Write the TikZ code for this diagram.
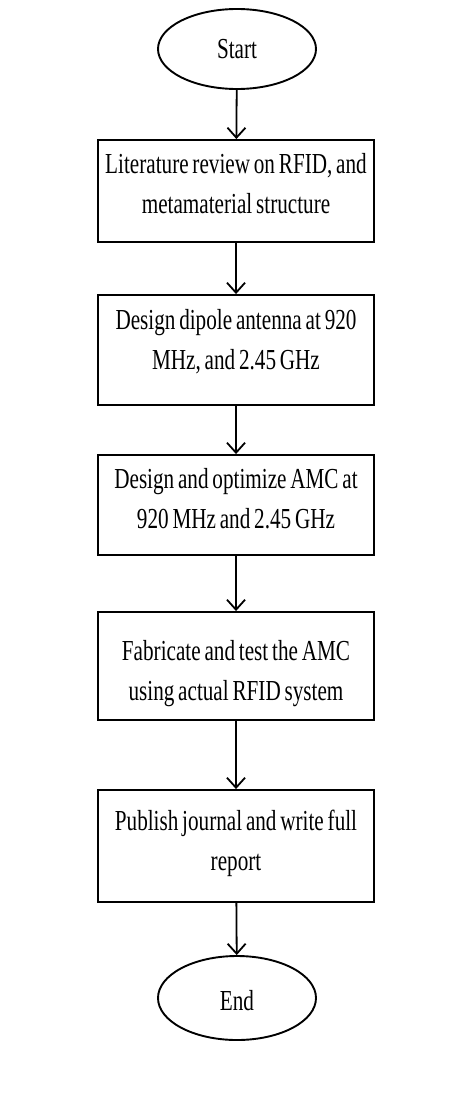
\documentclass[tikz,border=0pt]{standalone}
\usepackage{graphicx}
\usepackage{fontspec}
\setmainfont{Liberation Serif}
\usetikzlibrary{shapes.geometric,arrows.meta}
% narrow, tall lettering with tight word spacing, used in every label
\newcommand{\narrowtext}[1]{\scalebox{0.73}[1]{\spaceskip=0.18em plus 0.02em\begin{tabular}{@{}c@{}}#1\end{tabular}}}
\begin{document}
\begin{tikzpicture}[x=1pt,y=-1pt,
  every node/.style={font=\fontsize{29}{40}\selectfont, align=center, inner sep=0pt},
  terminal/.style={draw, ellipse, line width=1.9pt, minimum width=158pt, minimum height=80pt},
  stepbox/.style={draw, rectangle, line width=1.9pt, minimum width=276pt},
  flow/.style={line width=1.8pt, -{Straight Barb[length=10pt,width=18pt,line width=1.8pt]}}
]
\useasboundingbox (0,0) rectangle (467,1100);

\node[terminal] (start) at (237,49) {};
\node[stepbox, minimum height=102pt] (s1) at (236,191) {};
\node[stepbox, minimum height=110pt] (s2) at (236,350) {};
\node[stepbox, minimum height=100pt] (s3) at (236,505) {};
\node[stepbox, minimum height=108pt] (s4) at (236,666) {};
\node[stepbox, minimum height=112pt] (s5) at (236,846) {};
\node[terminal, minimum height=84pt] (end) at (237,998) {};

% labels, nudged off the shape centres
\node (t0) at ([yshift=-1pt]start.center) {\narrowtext{Start}};
\node (t1) at ([yshift=6pt]s1.center) {\narrowtext{Literature review on RFID, and\\metamaterial structure}};
\node (t2) at ([yshift=9pt]s2.center) {\narrowtext{Design dipole antenna at 920\\MHz, and 2.45 GHz}};
\node (t3) at ([yshift=5pt]s3.center) {\narrowtext{Design and optimize AMC at\\920 MHz and 2.45 GHz}};
\node (t4) at ([yshift=-6pt]s4.center) {\narrowtext{Fabricate and test the AMC\\using actual RFID system}};
\node (t5) at ([yshift=4pt]s5.center) {\narrowtext{Publish journal and write full\\report}};
\node (t6) at ([yshift=-4pt]end.center) {\narrowtext{End}};

\draw[flow] (start) -- (s1);
\draw[flow] (s1) -- (s2);
\draw[flow] (s2) -- (s3);
\draw[flow] (s3) -- (s4);
\draw[flow] (s4) -- (s5);
\draw[flow] (s5) -- (end);
\end{tikzpicture}
\end{document}
